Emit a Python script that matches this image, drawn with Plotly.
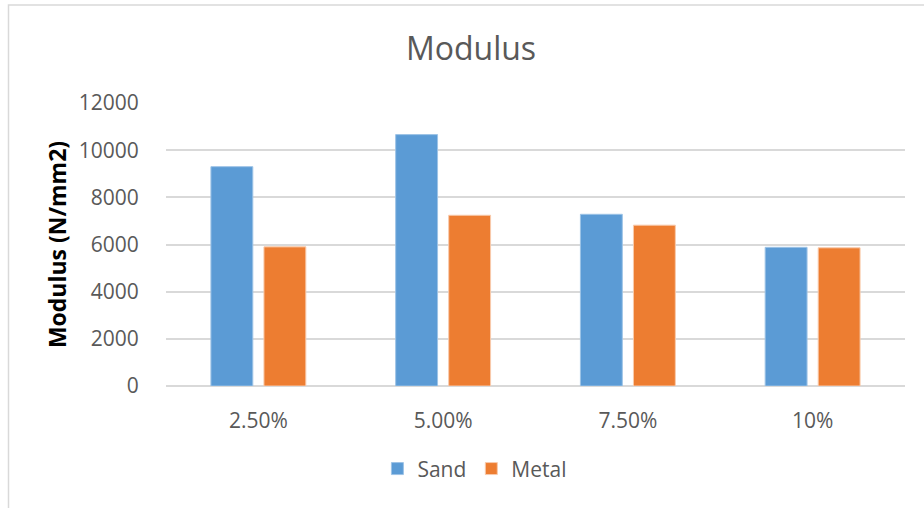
import plotly.graph_objects as go

# Modulus of specimens by replacement percentage
categories = ["2.50%", "5.00%", "7.50%", "10%"]
sand = [9300, 10660, 7280, 5880]
metal = [5900, 7240, 6820, 5860]
y_ticks = [0, 2000, 4000, 6000, 8000, 10000, 12000]

FONT = "Open Sans"
GRAY = "#595959"

fig = go.Figure()
fig.add_trace(go.Bar(
    x=categories, y=sand, name="Sand",
    marker=dict(color="#5B9BD5", line=dict(color="#9DC3E6", width=1)),
))
fig.add_trace(go.Bar(
    x=categories, y=metal, name="Metal",
    marker=dict(color="#ED7D31", line=dict(color="#F8CBAD", width=1)),
))

fig.update_layout(
    width=924, height=508,
    margin=dict(l=166, r=19, t=103, b=122),
    paper_bgcolor="white", plot_bgcolor="white",
    barmode="group", bargap=0.426, bargroupgap=0.21,
    title=dict(text="Modulus", x=471 / 924, xref="container", xanchor="center",
               y=1 - 49 / 508, yref="container", yanchor="middle",
               font=dict(family=FONT, size=32, color=GRAY)),
    font=dict(family=FONT, size=21, color=GRAY),
    legend=dict(orientation="h", x=0.418, xanchor="center", y=-0.293, yanchor="middle",
                font=dict(family=FONT, size=21, color=GRAY),
                itemwidth=30, traceorder="normal"),
    showlegend=True,
)

fig.update_yaxes(
    range=[0, 12000], tickvals=y_ticks, ticktext=[str(v) for v in y_ticks],
    showgrid=True, gridcolor="#D9D9D9", gridwidth=1.5,
    zeroline=True, zerolinecolor="#D9D9D9", zerolinewidth=1.5,
    showline=False, ticks="outside", ticklen=22, tickcolor="rgba(0,0,0,0)",
    tickfont=dict(family=FONT, size=21, color=GRAY),
    title=dict(text="<b>Modulus (N/mm2)</b>", standoff=5,
               font=dict(family=FONT, size=23, color="black")),
)
fig.update_xaxes(
    showgrid=False, showline=False,
    ticks="outside", ticklen=16, tickcolor="rgba(0,0,0,0)",
    tickfont=dict(family=FONT, size=21, color=GRAY),
)

# Light chart-area border
fig.add_shape(type="rect", xref="paper", yref="paper",
              x0=(8.5 - 166) / 739, x1=1 + 40 / 739,
              y0=-0.6, y1=1 + (102.7 - 4.5) / 283.3,
              line=dict(color="#D9D9D9", width=1.5), layer="below")

fig.write_html("out.html")
